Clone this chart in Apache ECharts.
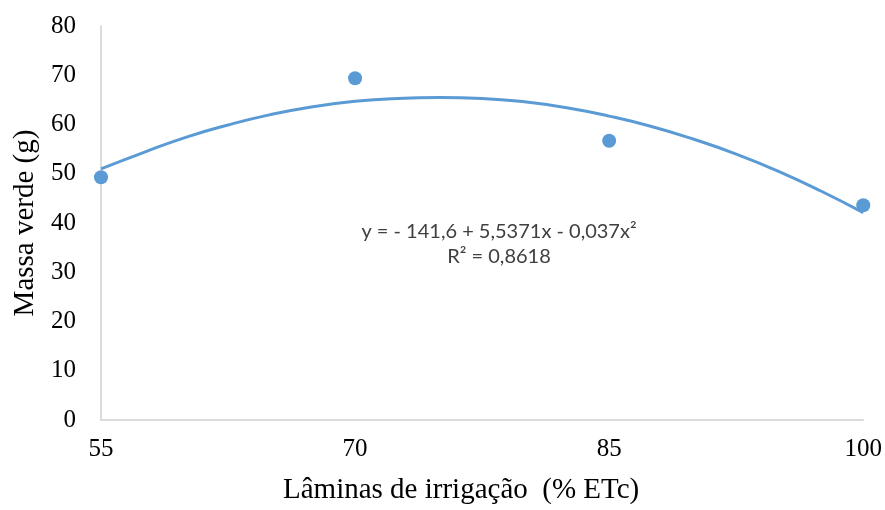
<!DOCTYPE html>
<html>
<head>
<meta charset="utf-8">
<script src="https://cdn.jsdelivr.net/npm/echarts@6/dist/echarts.min.js"></script>
<style>html,body{margin:0;padding:0;background:#fff}#c{width:885px;height:510px}</style>
</head>
<body>
<div id="c"></div>
<script>
// Observed points
const laminas = [55, 70, 85, 100];
const massaVerde = [49.3, 69.4, 56.7, 43.6];
// Trend line values
const trendX = [55, 57.5, 60, 62.5, 65, 67.5, 70, 72.5, 75, 77.5, 80, 82.5, 85, 87.5, 90, 92.5, 95, 97.5, 100];
const trendY = [51.0, 54.3, 57.4, 59.9, 62.0, 63.6, 64.7, 65.3, 65.5, 65.3, 64.6, 63.4, 61.7, 59.6, 57.0, 54.0, 50.5, 46.5, 42.1];
const yTicks = [0, 10, 20, 30, 40, 50, 60, 70, 80];
const xTitle = 'Lâminas de irrigação  (% ETc)';
const yTitle = 'Massa verde (g)';
const eqLine1 = 'y = - 141,6 + 5,5371x - 0,037x²';
const eqLine2 = 'R² = 0,8618';

const chart = echarts.init(document.getElementById('c'));
const serif = '"Liberation Serif","Times New Roman",serif';
const blue = '#5B9BD5';
chart.setOption({
  animation: false,
  grid: {left: 101, right: 21, top: 26, bottom: 88},
  xAxis: {
    type: 'value', min: 55, max: 100, interval: 15,
    name: xTitle, nameLocation: 'middle', nameGap: 56,
    nameTextStyle: {fontFamily: serif, fontSize: 29, color: '#000', padding: [0, 42, 0, 0]},
    axisLine: {show: true, lineStyle: {color: '#d0d0d0', width: 1.5}},
    axisTick: {show: false},
    splitLine: {show: false},
    axisLabel: {fontFamily: serif, fontSize: 25, color: '#000', margin: 17}
  },
  yAxis: {
    type: 'value', min: yTicks[0], max: yTicks[yTicks.length - 1], interval: 10,
    name: yTitle, nameLocation: 'middle', nameGap: 59,
    nameTextStyle: {fontFamily: serif, fontSize: 29, color: '#000'},
    axisLine: {show: true, lineStyle: {color: '#d0d0d0', width: 1.5}},
    axisTick: {show: false},
    splitLine: {show: false},
    axisLabel: {fontFamily: serif, fontSize: 25, color: '#000', margin: 25}
  },
  series: [
    {
      type: 'line', smooth: true, symbol: 'none', silent: true,
      data: trendX.map((x, i) => [x, trendY[i]]),
      lineStyle: {color: blue, width: 3}, z: 2
    },
    {
      type: 'scatter', symbolSize: 14,
      data: laminas.map((x, i) => [x, massaVerde[i]]),
      itemStyle: {color: blue, opacity: 1}, z: 3
    }
  ],
  graphic: [
    {type: 'text', x: 499, y: 219, style: {text: eqLine1 + '\n' + eqLine2, align: 'center', verticalAlign: 'top', font: '20px Lato, "Open Sans", sans-serif', fill: '#404040', lineHeight: 25}}
  ]
});
</script>
</body>
</html>
